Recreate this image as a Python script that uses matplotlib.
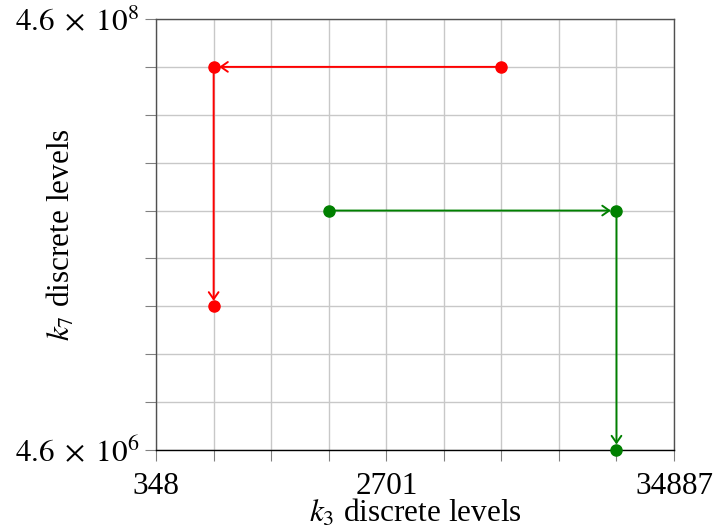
import matplotlib
matplotlib.use("Agg")
import matplotlib.pyplot as plt
from matplotlib.ticker import FixedLocator, NullLocator

plt.rcParams['font.family'] = ['Liberation Serif', 'DejaVu Serif']
plt.rcParams['mathtext.fontset'] = 'stix'

# Axis ticks (log-spaced grid)
x_ticks = [348, 581, 969, 1617, 2701, 4501, 7510, 12531, 20909, 34887]
x_labels = ['348', '', '', '', '2701', '', '', '', '', '34887']
y_ticks = [4.6e6, 7.673e6, 1.280e7, 2.135e7, 3.562e7, 5.942e7, 9.912e7, 1.653e8, 2.758e8, 4.6e8]
y_labels = [r'$4.6\;\times\;10^{6}$', '', '', '', '', '', '', '', '', r'$4.6\;\times\;10^{8}$']

# Paths
red_x = [7510, 581, 581]
red_y = [2.758e8, 2.758e8, 2.135e7]
green_x = [1617, 20909, 20909]
green_y = [5.942e7, 5.942e7, 4.6e6]

FS = 22.5

fig = plt.figure(figsize=(7.15, 5.31), dpi=100)
ax = fig.add_axes([0.2182, 0.1525, 0.7245, 0.8117])
ax.set_xscale('log')
ax.set_yscale('log')
ax.set_xlim(x_ticks[0], x_ticks[-1])
ax.set_ylim(y_ticks[0], y_ticks[-1])

ax.xaxis.set_major_locator(FixedLocator(x_ticks))
ax.xaxis.set_minor_locator(NullLocator())
ax.yaxis.set_major_locator(FixedLocator(y_ticks))
ax.yaxis.set_minor_locator(NullLocator())
ax.set_xticklabels(x_labels)
ax.set_yticklabels(y_labels)

ax.grid(True, color='#c8c8c8', linewidth=1.0)
ax.set_axisbelow(True)
ax.tick_params(direction='out', length=8, width=0.8, color='#808080',
               labelsize=FS)
ax.tick_params(axis='x', pad=8)
ax.tick_params(axis='y', pad=4)
for s in ax.spines.values():
    s.set_color('#505050')
    s.set_linewidth(1.0)
ax.spines['bottom'].set_color('black')

for xs, ys, col in [(red_x, red_y, '#ff0000'), (green_x, green_y, '#008000')]:
    for i in range(len(xs) - 1):
        ax.annotate('', xy=(xs[i + 1], ys[i + 1]), xytext=(xs[i], ys[i]),
                    arrowprops=dict(arrowstyle='->,head_length=0.5,head_width=0.35',
                                    color=col, lw=1.4, shrinkA=0, shrinkB=4))
    ax.plot(xs, ys, linestyle='none', marker='o', color=col, markersize=8,
            clip_on=False, zorder=5)

ax.set_xlabel(r'$k_3$ discrete levels', fontsize=FS)
ax.set_ylabel(r'$k_7$ discrete levels', fontsize=FS)
ax.xaxis.set_label_coords(0.5, -0.11)
ax.yaxis.set_label_coords(-0.152, 0.5)

fig.savefig('out.png', dpi=100)
